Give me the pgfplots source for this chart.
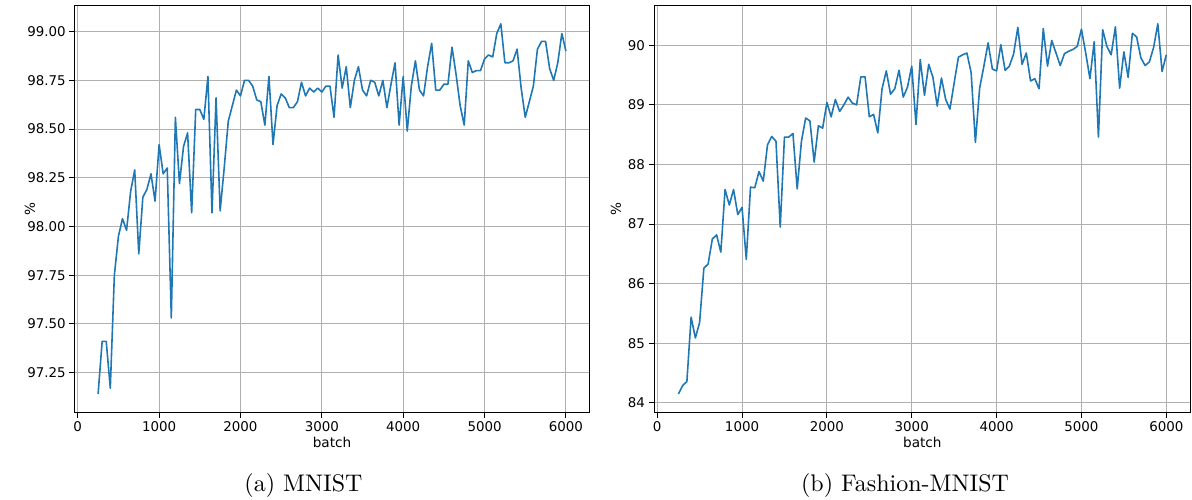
\documentclass[border=0pt]{standalone}
\usepackage{fontspec}
\usepackage{pgfplots}
\pgfplotsset{compat=1.18}
\usepackage{pgfplotstable}
\newfontfamily\dejavu{DejaVu Sans}
\newfontfamily\capfont{lmroman10-regular}[Extension=.otf]
\definecolor{mplblue}{RGB}{31,119,180}
\definecolor{gridgray}{RGB}{176,176,176}

\pgfplotstableread{
x y
250 97.14
300 97.41
350 97.41
400 97.17
450 97.75
500 97.95
550 98.04
600 97.98
650 98.18
700 98.29
750 97.86
800 98.15
850 98.19
900 98.27
950 98.13
1000 98.42
1050 98.27
1100 98.30
1150 97.53
1200 98.56
1250 98.22
1300 98.41
1350 98.48
1400 98.07
1450 98.60
1500 98.60
1550 98.55
1600 98.77
1650 98.07
1700 98.66
1750 98.08
1800 98.30
1850 98.54
1900 98.62
1950 98.70
2000 98.67
2050 98.75
2100 98.75
2150 98.72
2200 98.65
2250 98.64
2300 98.52
2350 98.77
2400 98.42
2450 98.62
2500 98.68
2550 98.66
2600 98.61
2650 98.61
2700 98.64
2750 98.74
2800 98.67
2850 98.71
2900 98.69
2950 98.71
3000 98.69
3050 98.72
3100 98.72
3150 98.56
3200 98.88
3250 98.71
3300 98.82
3350 98.61
3400 98.75
3450 98.82
3500 98.70
3550 98.67
3600 98.75
3650 98.74
3700 98.67
3750 98.75
3800 98.61
3850 98.73
3900 98.84
3950 98.52
4000 98.77
4050 98.49
4100 98.72
4150 98.85
4200 98.70
4250 98.67
4300 98.82
4350 98.94
4400 98.70
4450 98.70
4500 98.73
4550 98.73
4600 98.92
4650 98.78
4700 98.62
4750 98.52
4800 98.85
4850 98.79
4900 98.80
4950 98.80
5000 98.86
5050 98.88
5100 98.87
5150 98.99
5200 99.04
5250 98.84
5300 98.84
5350 98.85
5400 98.91
5450 98.71
5500 98.56
5550 98.64
5600 98.72
5650 98.91
5700 98.95
5750 98.95
5800 98.81
5850 98.75
5900 98.84
5950 98.99
6000 98.90
}\mnist

\pgfplotstableread{
x y
250 84.15
300 84.29
350 84.36
400 85.44
450 85.09
500 85.35
550 86.26
600 86.33
650 86.75
700 86.82
750 86.53
800 87.58
850 87.32
900 87.58
950 87.16
1000 87.28
1050 86.41
1100 87.62
1150 87.61
1200 87.88
1250 87.72
1300 88.33
1350 88.47
1400 88.39
1450 86.95
1500 88.46
1550 88.46
1600 88.52
1650 87.59
1700 88.39
1750 88.78
1800 88.73
1850 88.04
1900 88.65
1950 88.61
2000 89.04
2050 88.80
2100 89.09
2150 88.89
2200 89.00
2250 89.13
2300 89.03
2350 89.00
2400 89.47
2450 89.47
2500 88.80
2550 88.84
2600 88.53
2650 89.27
2700 89.57
2750 89.18
2800 89.27
2850 89.58
2900 89.13
2950 89.30
3000 89.65
3050 88.67
3100 89.76
3150 89.16
3200 89.68
3250 89.46
3300 88.98
3350 89.45
3400 89.09
3450 88.93
3500 89.37
3550 89.80
3600 89.84
3650 89.87
3700 89.54
3750 88.37
3800 89.28
3850 89.65
3900 90.04
3950 89.60
4000 89.57
4050 90.01
4100 89.58
4150 89.65
4200 89.85
4250 90.30
4300 89.68
4350 89.87
4400 89.40
4450 89.44
4500 89.27
4550 90.28
4600 89.65
4650 90.08
4700 89.87
4750 89.66
4800 89.86
4850 89.90
4900 89.93
4950 89.98
5000 90.27
5050 89.87
5100 89.44
5150 90.06
5200 88.46
5250 90.26
5300 89.98
5350 89.84
5400 90.31
5450 89.28
5500 89.89
5550 89.46
5600 90.20
5650 90.14
5700 89.79
5750 89.66
5800 89.72
5850 89.96
5900 90.36
5950 89.56
6000 89.84
}\fashion

\pgfplotsset{
  mystyle/.style={
    scale only axis,
    anchor=north west,
    axis line style={black, line width=1pt},
    tick align=outside, tick pos=left,
    major tick length=5.5pt,
    tick style={black, line width=1pt},
    grid=major,
    major grid style={gridgray, line width=1pt},
    ticklabel style={font=\dejavu\fontsize{13.4}{15}\selectfont},
    label style={font=\dejavu\fontsize{13.6}{15}\selectfont},
    /pgf/number format/assume math mode=true,
    xmin=-37.5, xmax=6287.5,
    xtick={0,1000,2000,3000,4000,5000,6000},
    x tick label style={/pgf/number format/1000 sep={}},
    xlabel={batch}, ylabel={\%},
    xlabel style={at={(axis description cs:0.5,-0.0725)}, anchor=center},
  }
}

\begin{document}
\begin{tikzpicture}
\begin{axis}[mystyle,
  at={(74.7pt,-5.3pt)}, width=514.6pt, height=407.2pt,
  ymin=97.045, ymax=99.135,
  ytick={97.25,97.5,97.75,98,98.25,98.5,98.75,99},
  y tick label style={/pgf/number format/.cd, fixed, fixed zerofill, precision=2},
  ylabel style={at={(axis description cs:-0.0868,0.5)}, anchor=center},
]
\addplot[mplblue, line width=1.6pt, line join=round, no markers] table[x=x, y=y] {\mnist};
\end{axis}
\begin{axis}[mystyle,
  at={(654pt,-5.3pt)}, width=536.7pt, height=407.2pt,
  ymin=83.84, ymax=90.67,
  ytick={84,85,86,87,88,89,90},
  ylabel style={at={(axis description cs:-0.0708,0.5)}, anchor=center},
]
\addplot[mplblue, line width=1.6pt, line join=round, no markers] table[x=x, y=y] {\fashion};
\end{axis}
\node[anchor=base, font=\capfont\fontsize{24}{28}\selectfont] at (303.5pt,-491.7pt) {(a) MNIST};
\node[anchor=base, font=\capfont\fontsize{24}{28}\selectfont] at (905pt,-491.7pt) {(b) Fashion-MNIST};
\pgfresetboundingbox
\path[use as bounding box] (0pt,0pt) rectangle (1192pt,-499pt);
\end{tikzpicture}
\end{document}
